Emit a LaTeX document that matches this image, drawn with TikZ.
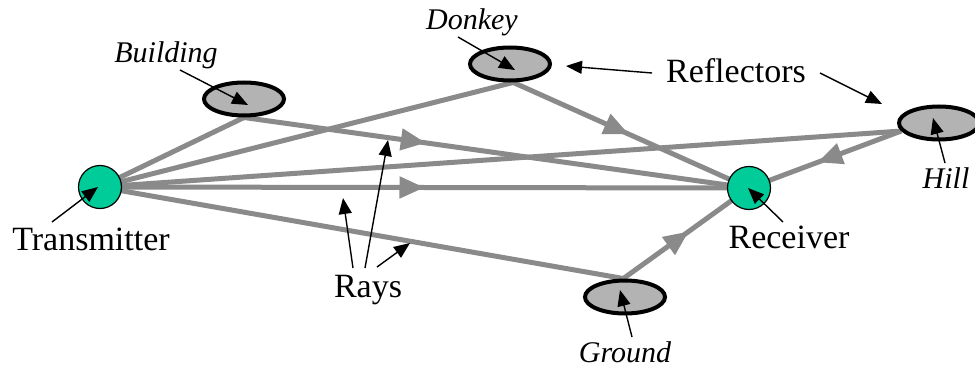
\documentclass[tikz,border=0pt]{standalone}
\usepackage{fontspec}
\setmainfont{Liberation Serif}
\usetikzlibrary{arrows.meta,shapes.geometric,decorations.markings}
\pgfdeclarelayer{raylayer}
\pgfsetlayers{raylayer,main}
\definecolor{stationgreen}{RGB}{0,204,153}
\definecolor{refgray}{RGB}{179,179,179}
\definecolor{raygray}{RGB}{138,138,138}

\begin{document}
\begin{tikzpicture}[x=1pt,y=-1pt,
  station/.style={circle, draw=black, line width=1.2pt, fill=stationgreen,
    minimum size=43pt, inner sep=0pt},
  reflector/.style={ellipse, draw=black, line width=4pt, fill=refgray,
    minimum width=80pt, minimum height=33pt, inner sep=0pt},
  ray/.style={draw=raygray, line width=5pt},
  midarrow/.style={postaction={decorate}, decoration={markings,
    mark=at position #1 with {\arrow[raygray]{Triangle[length=25pt,width=21pt]}}}},
  note/.style={draw=black, line width=1.4pt, -{Triangle[length=16pt,width=13pt]}},
  lbl/.style={font=\fontsize{34}{40}\selectfont, inner sep=0pt, anchor=base},
  ilbl/.style={font=\fontsize{30}{36}\selectfont\itshape, inner sep=0pt, anchor=base}]

\useasboundingbox (0,0) rectangle (975,369);

% stations and reflectors
\node[station] (tx) at (100,187) {};
\node[station] (rx) at (749,188) {};
\node[reflector] (bld) at (244,99) {};
\node[reflector] (dnk) at (510,64) {};
\node[reflector] (hill) at (939,123) {};
\node[reflector] (gnd) at (625,297) {};

% labels
\node[lbl] (txl) at (91,250) {Transmitter};
\node[lbl] (rxl) at (789,248) {Receiver};
\node[lbl] (raysl) at (368,297) {Rays};
\node[lbl] (refl) at (736,83) {Reflectors};
\node[ilbl] (bldl) at (166,63) {Building};
\node[ilbl] (dnkl) at (472,30) {Donkey};
\node[ilbl] (hilll) at (946,188) {Hill};
\node[ilbl] (gndl) at (625,362) {Ground};

% propagation paths, behind the nodes
\begin{pgfonlayer}{raylayer}
  \draw[ray] (tx.center) -- (bld.south);
  \draw[ray, midarrow=0.36] (bld.south) -- (rx.center);
  \draw[ray] (tx.center) -- (dnk.-80);
  \draw[ray, midarrow=0.49] (dnk.-80) -- (rx.center);
  \draw[ray] (tx.center) -- (hill.192);
  \draw[ray, midarrow=0.55] (hill.192) -- (rx.center);
  \draw[ray, midarrow=0.50] (tx.center) -- (rx.center);
  \draw[ray] (tx.center) -- (gnd.95);
  \draw[ray, midarrow=0.52] (gnd.95) -- (rx.center);
\end{pgfonlayer}

% pointer arrows from the labels
\coordinate (bldt) at (180,70);   \coordinate (bldh) at (248,105);
\coordinate (dnkt) at (458,37);   \coordinate (dnkh) at (515,70);
\coordinate (refa) at (652,73);   \coordinate (refah) at (566,66);
\coordinate (refb) at (820,73);   \coordinate (refbh) at (882,104);
\coordinate (hillt) at (945,163); \coordinate (hillh) at (933,118);
\coordinate (rxt) at (783,222);   \coordinate (rxh) at (748,188);
\coordinate (txt) at (52,222);    \coordinate (txh) at (98,187);
\coordinate (raya) at (353,268);  \coordinate (rayah) at (343,198);
\coordinate (rayb) at (365,268);  \coordinate (raybh) at (388,140);
\coordinate (rayc) at (377,267);  \coordinate (raych) at (410,243);
\coordinate (gndt) at (632,337);  \coordinate (gndh) at (620,290);

\draw[note] (bldt) -- (bldh);
\draw[note] (dnkt) -- (dnkh);
\draw[note] (refa) -- (refah);
\draw[note] (refb) -- (refbh);
\draw[note] (hillt) -- (hillh);
\draw[note] (rxt) -- (rxh);
\draw[note] (txt) -- (txh);
\draw[note] (raya) -- (rayah);
\draw[note] (rayb) -- (raybh);
\draw[note] (rayc) -- (raych);
\draw[note] (gndt) -- (gndh);
\end{tikzpicture}
\end{document}
